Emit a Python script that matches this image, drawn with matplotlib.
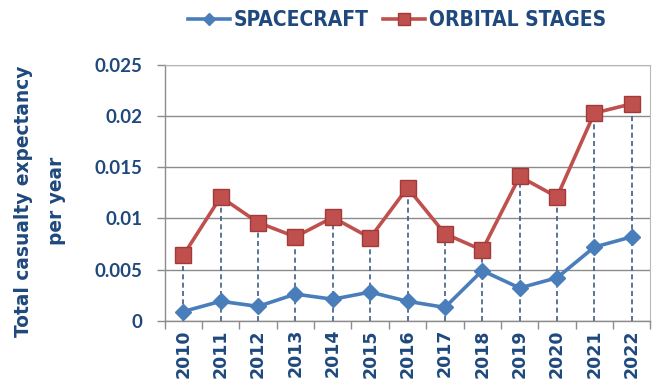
import matplotlib
matplotlib.use("Agg")
import matplotlib.pyplot as plt
from matplotlib import font_manager as fm
from matplotlib.ticker import FixedLocator, FuncFormatter
from matplotlib.lines import Line2D

years = ["2010", "2011", "2012", "2013", "2014", "2015", "2016",
         "2017", "2018", "2019", "2020", "2021", "2022"]
spacecraft = [0.0009, 0.0019, 0.0014, 0.0026, 0.0021, 0.0028, 0.0019,
              0.0013, 0.0049, 0.0032, 0.0042, 0.0072, 0.0082]
orbital_stages = [0.0064, 0.0121, 0.0096, 0.0082, 0.0101, 0.0081, 0.0130,
                  0.0085, 0.0069, 0.0141, 0.0121, 0.0203, 0.0212]
y_ticks = [0, 0.005, 0.01, 0.015, 0.02, 0.025]

BLUE = "#4A7EBB"
RED = "#C0504D"
RED_EDGE = "#A23B38"
NAVY = "#1F497D"
DROP = "#3D5E86"
GRID = "#8C8C8C"

fig = plt.figure(figsize=(6.62, 3.84), dpi=100)
ax = fig.add_axes([0.2487, 0.1648, 0.7338, 0.666])

x = list(range(len(years)))

# dashed drop lines from each orbital-stage point to the axis
ax.vlines(x, 0, orbital_stages, colors=DROP, linestyles=(0, (3, 2)),
          linewidth=1.2, zorder=2)

ax.plot(x, spacecraft, color=BLUE, linewidth=2.6, marker="D",
        markersize=8, markerfacecolor=BLUE, markeredgecolor=BLUE, zorder=3)
ax.plot(x, orbital_stages, color=RED, linewidth=2.6, marker="s",
        markersize=11.5, markerfacecolor=RED, markeredgecolor=RED_EDGE,
        markeredgewidth=1.0, zorder=4)

ax.set_xlim(-0.5, len(years) - 0.5)
ax.set_ylim(0, 0.025)

ax.yaxis.set_major_locator(FixedLocator(y_ticks))
ax.yaxis.set_major_formatter(FuncFormatter(lambda v, p: ("%g" % v)))
ax.grid(axis="y", color=GRID, linewidth=1.0, zorder=0)
ax.set_axisbelow(True)

ax.set_xticks(x)
ax.set_xticklabels(years, rotation=90, fontfamily="DejaVu Sans",
                   fontweight="bold", fontsize=12.5, color=NAVY)
ax.xaxis.set_minor_locator(FixedLocator([i - 0.5 for i in range(len(years) + 1)]))
ax.tick_params(axis="x", which="major", length=0, pad=6)
ax.tick_params(axis="x", which="minor", length=6, width=1, color=GRID,
               direction="out")
ax.tick_params(axis="y", length=6, width=1, color=GRID, pad=10)

for lab in ax.get_yticklabels():
    lab.set_fontfamily("Lato")
    lab.set_fontweight("bold")
    lab.set_fontsize(13.5)
    lab.set_color(NAVY)

for side in ("left", "bottom"):
    ax.spines[side].set_color(GRID)
    ax.spines[side].set_linewidth(1.0)
for side in ("right", "top"):
    ax.spines[side].set_color("#B8B8B8")
    ax.spines[side].set_linewidth(0.8)

fig.text(0.0605, 0.4766, "Total casualty expectancy\nper year", rotation=90,
         ha="center", va="center", multialignment="center", linespacing=1.9,
         fontfamily="DejaVu Sans", fontweight="bold", fontsize=13.4, color=NAVY)

handles = [
    Line2D([], [], color=BLUE, linewidth=2.6, marker="D", markersize=6,
           markerfacecolor=BLUE, markeredgecolor=BLUE),
    Line2D([], [], color=RED, linewidth=2.6, marker="s", markersize=8,
           markerfacecolor=RED, markeredgecolor=RED_EDGE),
]
prop = fm.FontProperties(family="DejaVu Sans", weight="bold",
                         stretch="condensed", size=15)
leg = fig.legend(handles, ["SPACECRAFT", "ORBITAL STAGES"], ncol=2,
                 loc="center", bbox_to_anchor=(0.600, 1 - 20 / 384),
                 frameon=False, handlelength=2.0, handletextpad=0.2,
                 columnspacing=0.7, prop=prop)
for t in leg.get_texts():
    t.set_color(NAVY)

fig.savefig("out.png", dpi=100)
